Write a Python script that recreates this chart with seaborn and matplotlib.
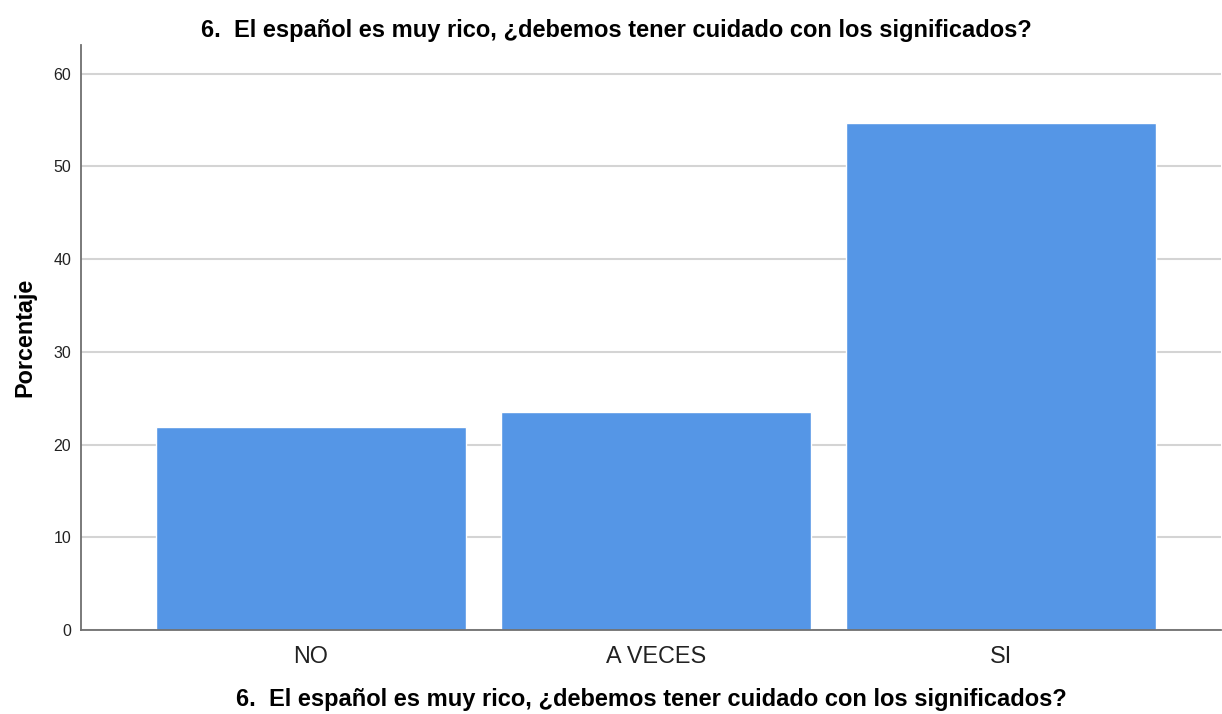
import matplotlib
matplotlib.use('Agg')
import matplotlib.pyplot as plt
import seaborn as sns
import pandas as pd

# datos
categorias = ['NO', 'A VECES', 'SI']
porcentajes = [21.9, 23.5, 54.7]
titulo = '6.  El español es muy rico, ¿debemos tener cuidado con los significados?'

sns.set_style('white')
plt.rcParams['font.family'] = ['Liberation Sans', 'DejaVu Sans']

df = pd.DataFrame({'Respuesta': categorias, 'Porcentaje': porcentajes})

fig = plt.figure(figsize=(12.22, 7.14), dpi=100)
ax = fig.add_axes([0.0663, 0.1176, 0.9327, 0.8194])

ax.yaxis.grid(True, color='#d4d4d4', linewidth=1.5)
ax.set_axisbelow(True)
sns.barplot(data=df, x='Respuesta', y='Porcentaje', color='#5596E6',
            saturation=1, width=0.897, ax=ax, zorder=2)

ax.set_ylim(0, 63.1)
ax.set_xlim(-0.666, 2.637)
ax.set_yticks([0, 10, 20, 30, 40, 50, 60])

for s in ['top', 'right']:
    ax.spines[s].set_visible(False)
for s in ['left', 'bottom']:
    ax.spines[s].set_color('#707070')
    ax.spines[s].set_linewidth(1.3)

ax.tick_params(axis='y', length=0, labelsize=11.5, pad=7, labelcolor='#222222')
ax.tick_params(axis='x', length=0, labelsize=16.8, pad=11, labelcolor='#222222')

ax.set_ylabel('Porcentaje', fontsize=16.8, fontweight='bold', labelpad=12, color='black')
ax.set_xlabel(titulo, fontsize=17, fontweight='bold', labelpad=14.5, color='black')
fig.suptitle(titulo, fontsize=17, fontweight='bold', x=0.504, y=0.974, color='black')

fig.savefig('out.png', dpi=100)
